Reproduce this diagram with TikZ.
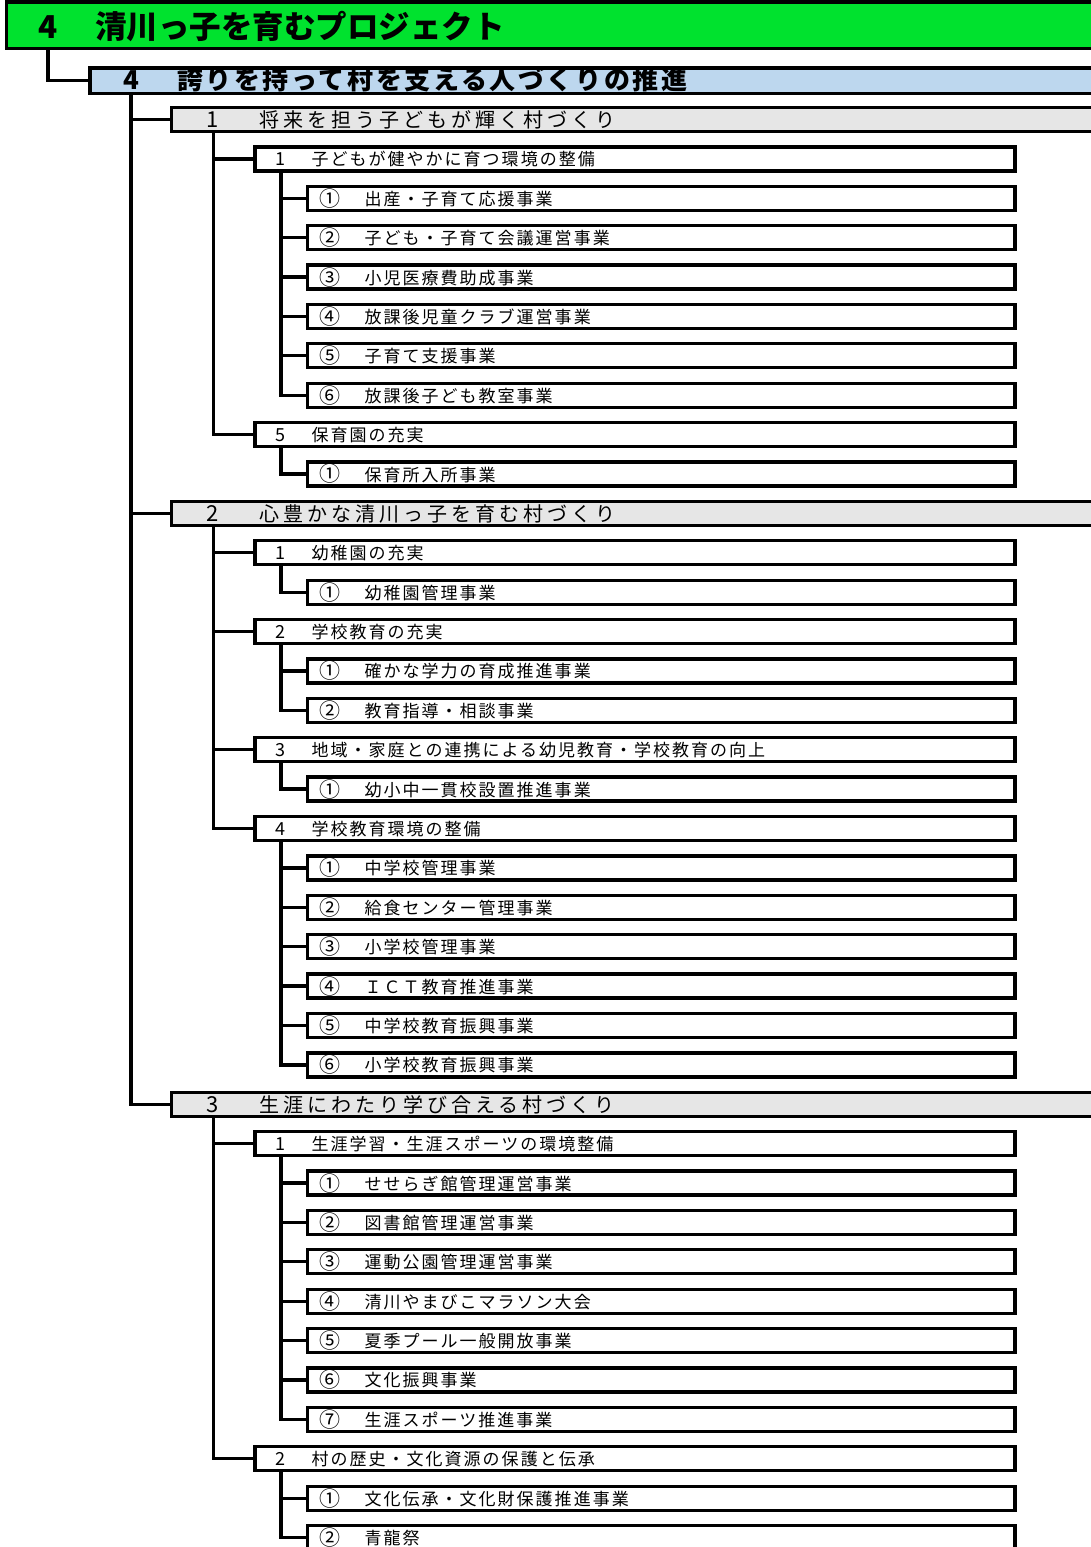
\documentclass[tikz,border=0pt]{standalone}
\usepackage{fontspec}
\newfontfamily\jp{Noto Sans CJK JP}
\newfontfamily\jprow{Noto Sans CJK JP}[LetterSpace=11.8]
\newfontfamily\jpgrey{Noto Sans CJK JP}[LetterSpace=20]
\newfontfamily\jpblue{Noto Sans CJK JP}[LetterSpace=10]
\definecolor{titlegreen}{RGB}{0,226,46}
\definecolor{lightblue}{RGB}{189,215,238}
\definecolor{lightgrey}{RGB}{230,230,230}
\tikzset{
  conn/.style={line width=3.3pt, line join=miter},
  greenbox/.style={draw, line width=3.5pt, fill=titlegreen, anchor=north west, inner sep=0, outer sep=0, minimum width=1093.5pt, minimum height=46.5pt},
  bluebox/.style={draw, line width=3.5pt, fill=lightblue, anchor=north west, inner sep=0, outer sep=0, minimum width=1010pt, minimum height=25.5pt},
  greybox/.style={draw, line width=3.3pt, fill=lightgrey, anchor=west, inner sep=0, outer sep=0, minimum width=928.5pt, minimum height=24pt},
  ltbox/.style={draw, line width=3.3pt, fill=white, anchor=west, inner sep=0, outer sep=0, minimum width=760pt, minimum height=24pt},
  lfbox/.style={draw, line width=3.3pt, fill=white, anchor=west, inner sep=0, outer sep=0, minimum width=707.5pt, minimum height=24pt},
  titletxt/.style={inner sep=0, font=\jp\bfseries\fontsize{31.5}{31.5}\selectfont},
  bluenum/.style={inner sep=0, font=\jp\bfseries\fontsize{26}{26}\selectfont},
  bluetxt/.style={inner sep=0, font=\jpblue\bfseries\fontsize{26}{26}\selectfont},
  greynum/.style={inner sep=0, font=\jp\fontsize{22}{22}\selectfont},
  greytxt/.style={inner sep=0, font=\jpgrey\fontsize{20}{20}\selectfont},
  rownum/.style={inner sep=0, font=\jp\fontsize{18}{18}\selectfont},
  circnum/.style={inner sep=0, font=\jp\fontsize{21}{21}\selectfont},
  rowtxt/.style={inner sep=0, font=\jprow\fontsize{17}{17}\selectfont},
}
\newcommand\Lgrey[3]{%
  \node[greybox] (r#1) at (171.5,{-(119.5+39.39*#1)}) {};
  \node[greynum,anchor=base] (r#1n) at (213,{-(127.5+39.39*#1)}) {#2};
  \node[greytxt,anchor=base west] (r#1t) at (259,{-(127.5+39.39*#1)}) {#3};}
\newcommand\Lthree[3]{%
  \node[ltbox] (r#1) at (255,{-(119.5+39.39*#1)}) {};
  \node[rownum,anchor=base] (r#1n) at (280.5,{-(126.5+39.39*#1)}) {#2};
  \node[rowtxt,anchor=base west] (r#1t) at (311.5,{-(126.5+39.39*#1)}) {#3};}
\newcommand\Lfour[3]{%
  \node[lfbox] (r#1) at (307.5,{-(119.5+39.39*#1)}) {};
  \node[circnum,anchor=center] (r#1n) at (330,{-(119.5+39.39*#1)}) {#2};
  \node[rowtxt,anchor=base west] (r#1t) at (364.5,{-(126.5+39.39*#1)}) {#3};}
\begin{document}
\begin{tikzpicture}[x=1pt,y=1pt]
\useasboundingbox (0,0) rectangle (1091,-1547);
\clip (0,0) rectangle (1091,-1547);
\coordinate (sA) at (48,0);
\coordinate (sB) at (131,0);
\coordinate (sC) at (213.5,0);
\coordinate (sD) at (281,0);
\node[greenbox] (top) at (6.5,-2) {};
\node[bluebox] (blue) at (90,-68) {};
\Lgrey{0}{1}{将来を担う子どもが輝く村づくり}
\Lthree{1}{1}{子どもが健やかに育つ環境の整備}
\Lfour{2}{①}{出産・子育て応援事業}
\Lfour{3}{②}{子ども・子育て会議運営事業}
\Lfour{4}{③}{小児医療費助成事業}
\Lfour{5}{④}{放課後児童クラブ運営事業}
\Lfour{6}{⑤}{子育て支援事業}
\Lfour{7}{⑥}{放課後子ども教室事業}
\Lthree{8}{5}{保育園の充実}
\Lfour{9}{①}{保育所入所事業}
\Lgrey{10}{2}{心豊かな清川っ子を育む村づくり}
\Lthree{11}{1}{幼稚園の充実}
\Lfour{12}{①}{幼稚園管理事業}
\Lthree{13}{2}{学校教育の充実}
\Lfour{14}{①}{確かな学力の育成推進事業}
\Lfour{15}{②}{教育指導・相談事業}
\Lthree{16}{3}{地域・家庭との連携による幼児教育・学校教育の向上}
\Lfour{17}{①}{幼小中一貫校設置推進事業}
\Lthree{18}{4}{学校教育環境の整備}
\Lfour{19}{①}{中学校管理事業}
\Lfour{20}{②}{給食センター管理事業}
\Lfour{21}{③}{小学校管理事業}
\Lfour{22}{④}{ＩＣＴ教育推進事業}
\Lfour{23}{⑤}{中学校教育振興事業}
\Lfour{24}{⑥}{小学校教育振興事業}
\Lgrey{25}{3}{生涯にわたり学び合える村づくり}
\Lthree{26}{1}{生涯学習・生涯スポーツの環境整備}
\Lfour{27}{①}{せせらぎ館管理運営事業}
\Lfour{28}{②}{図書館管理運営事業}
\Lfour{29}{③}{運動公園管理運営事業}
\Lfour{30}{④}{清川やまびこマラソン大会}
\Lfour{31}{⑤}{夏季プール一般開放事業}
\Lfour{32}{⑥}{文化振興事業}
\Lfour{33}{⑦}{生涯スポーツ推進事業}
\Lthree{34}{2}{村の歴史・文化資源の保護と伝承}
\Lfour{35}{①}{文化伝承・文化財保護推進事業}
\Lfour{36}{②}{青龍祭}
\node[titletxt,anchor=base] (topn) at (48,-38) {4};
\node[titletxt,anchor=base west] (topt) at (95,-38) {清川っ子を育むプロジェクト};
\node[bluenum,anchor=base] (bluen) at (131,-89) {4};
\node[bluetxt,anchor=base west] (bluet) at (177,-89) {誇りを持って村を支える人づくりの推進};
\draw[conn] (top.south -| sA) |- (blue.west);
\foreach \c in {r0,r10,r25} \draw[conn] (blue.south -| sB) |- (\c.west);
\foreach \c in {r1,r8} \draw[conn] (r0.south -| sC) |- (\c.west);
\foreach \c in {r11,r13,r16,r18} \draw[conn] (r10.south -| sC) |- (\c.west);
\foreach \c in {r26,r34} \draw[conn] (r25.south -| sC) |- (\c.west);
\foreach \c in {r2,r3,r4,r5,r6,r7} \draw[conn] (r1.south -| sD) |- (\c.west);
\draw[conn] (r8.south -| sD) |- (r9.west);
\draw[conn] (r11.south -| sD) |- (r12.west);
\foreach \c in {r14,r15} \draw[conn] (r13.south -| sD) |- (\c.west);
\draw[conn] (r16.south -| sD) |- (r17.west);
\foreach \c in {r19,r20,r21,r22,r23,r24} \draw[conn] (r18.south -| sD) |- (\c.west);
\foreach \c in {r27,r28,r29,r30,r31,r32,r33} \draw[conn] (r26.south -| sD) |- (\c.west);
\foreach \c in {r35,r36} \draw[conn] (r34.south -| sD) |- (\c.west);
\end{tikzpicture}
\end{document}
